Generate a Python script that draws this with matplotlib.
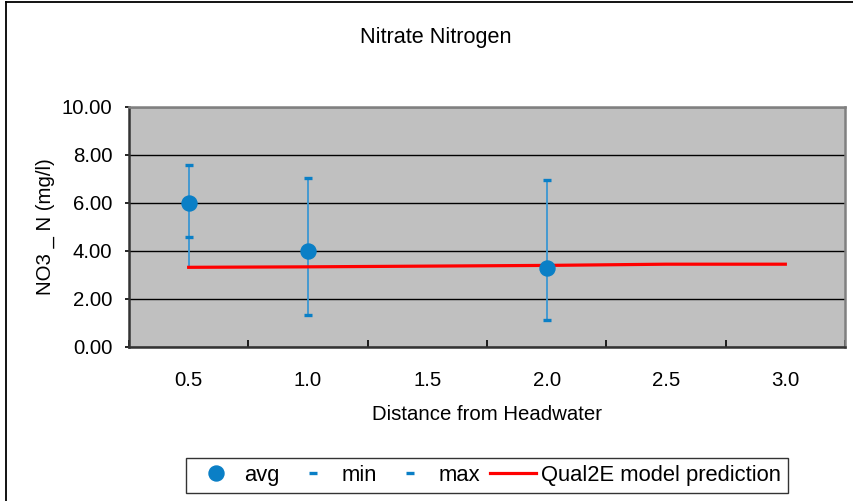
import numpy as np
import matplotlib
matplotlib.use("Agg")
import matplotlib.pyplot as plt
from matplotlib.lines import Line2D

plt.rcParams['font.family'] = ['Liberation Sans', 'DejaVu Sans']

# Sampling stations (distance from headwater) and measured nitrate nitrogen
distance = ['0.5', '1.0', '1.5', '2.0', '2.5', '3.0']
avg = [6.00, 4.00, np.nan, 3.30, np.nan, np.nan]
min_val = [4.58, 1.32, np.nan, 1.12, np.nan, np.nan]
max_val = [7.58, 7.05, np.nan, 6.97, np.nan, np.nan]
model = [3.32, 3.34, 3.37, 3.40, 3.45, 3.45]

BLUE = '#0a7fc6'
HL_BLUE = '#3a97d2'

fig = plt.figure(figsize=(8.54, 5.01), dpi=100)
fig.patch.set_facecolor('white')
ax = fig.add_axes([129 / 854, 1 - 347 / 501, (845 - 129) / 854, (347 - 107) / 501])
ax.set_facecolor('#c0c0c0')

x = np.arange(len(distance))

# high-low lines spanning all series at each station
stack = np.vstack([avg, min_val, max_val, model])
lo = np.nanmin(stack, axis=0)
hi = np.nanmax(stack, axis=0)
ax.vlines(x, lo, hi, color=HL_BLUE, lw=1.3, zorder=3)

ax.plot(x, model, color='#ff0000', lw=2.3, zorder=4, label='Qual2E model prediction')
ax.plot(x, avg, ls='none', marker='o', ms=10.8, color=BLUE, zorder=6, label='avg')
ax.plot(x, min_val, ls='none', marker='_', ms=6, mew=2.4, color=BLUE, zorder=5, label='min')
ax.plot(x, max_val, ls='none', marker='_', ms=6, mew=2.4, color=BLUE, zorder=5, label='max')

ax.set_ylim(0, 10)
ax.set_xlim(-0.5, len(distance) - 0.5)
ax.set_yticks(np.arange(0, 10.01, 2))
ax.set_yticklabels([f'{v:.2f}' for v in np.arange(0, 10.01, 2)])
ax.yaxis.grid(True, color='black', lw=1.0)
ax.set_axisbelow(True)

ax.set_xticks(x)
ax.set_xticklabels(distance)
ax.set_xticks(np.arange(-0.5, len(distance), 1), minor=True)
ax.tick_params(axis='x', which='major', length=0, pad=17, labelsize=14.7)
ax.tick_params(axis='x', which='minor', direction='in', length=5, width=1.2, color='black')
ax.tick_params(axis='y', direction='out', length=3, width=1.2, pad=9, labelsize=14.7)

for side in ('top', 'right'):
    ax.spines[side].set_color('#808080')
    ax.spines[side].set_linewidth(1.8)
for side in ('left', 'bottom'):
    ax.spines[side].set_color('#333333')
    ax.spines[side].set_linewidth(1.8)

fig.text(436 / 854, 1 - 37 / 501, 'Nitrate Nitrogen', ha='center', va='center', fontsize=15.6)
fig.text(45 / 854, 1 - 227 / 501, 'NO3 _ N (mg/l)', ha='center', va='center',
         rotation=90, fontsize=14.7)
fig.text(487 / 854, 1 - 414 / 501, 'Distance from Headwater', ha='center', va='center',
         fontsize=14.7)

handles, labels = ax.get_legend_handles_labels()
order = ['avg', 'min', 'max', 'Qual2E model prediction']
hmap = dict(zip(labels, handles))
leg = fig.legend([hmap[k] for k in order], order, ncol=4, loc='center',
                 bbox_to_anchor=(487 / 854, 1 - 475.5 / 501),
                 frameon=True, fancybox=False, edgecolor='black', fontsize=15.8,
                 handlelength=2.1, handletextpad=0.25, columnspacing=0.45,
                 borderpad=0.3, borderaxespad=0)
leg.get_frame().set_linewidth(1.0)

# chart border
fig.add_artist(Line2D([6.5 / 854, 6.5 / 854], [0, 1 - 1.5 / 501], color='black', lw=1.3,
                      transform=fig.transFigure))
fig.add_artist(Line2D([6.5 / 854, 1], [1 - 1.5 / 501, 1 - 1.5 / 501], color='black', lw=1.3,
                      transform=fig.transFigure))

fig.savefig('out.png', dpi=100)
